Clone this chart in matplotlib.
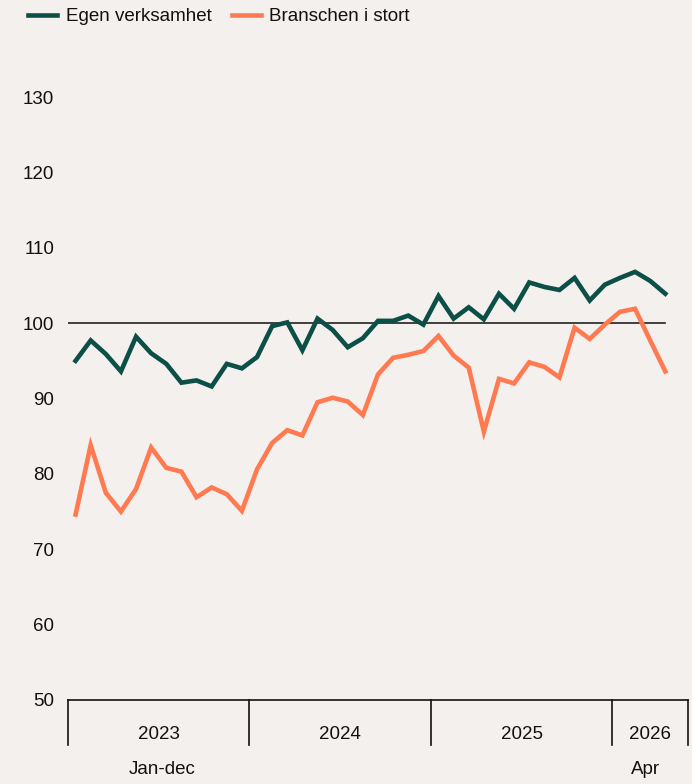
import matplotlib

matplotlib.use("Agg")
import matplotlib.pyplot as plt
import matplotlib.transforms as mtransforms

plt.rcParams["font.family"] = ["Liberation Sans", "DejaVu Sans"]

# monthly index, Jan 2023 - Apr 2026
egen = [
    95.0, 97.7, 95.9, 93.6, 98.2, 96.0, 94.6, 92.1, 92.4, 91.6, 94.6, 94.0,
    95.5, 99.6, 100.1, 96.4, 100.6, 99.1, 96.8, 98.0, 100.3, 100.3, 101.0, 99.8,
    103.6, 100.6, 102.1, 100.5, 103.9, 101.9, 105.4, 104.8, 104.4, 106.0, 103.0, 105.1,
    106.0, 106.8, 105.6, 103.9,
]
branschen = [
    74.6, 83.8, 77.5, 75.0, 78.0, 83.5, 80.8, 80.3, 76.9, 78.2, 77.3, 75.1,
    80.6, 84.1, 85.8, 85.1, 89.5, 90.1, 89.6, 87.8, 93.2, 95.4, 95.8, 96.3,
    98.3, 95.7, 94.1, 85.6, 92.6, 92.0, 94.8, 94.2, 92.8, 99.4, 97.9, 99.8,
    101.5, 101.9, 97.7, 93.6,
]
years = ["2023", "2024", "2025", "2026"]
months_per_year = [12, 12, 12, 4]
yticks = [50, 60, 70, 80, 90, 100, 110, 120, 130]

bg = "#F4F0ED"
green = "#0B4F47"
orange = "#FF7A50"

fig = plt.figure(figsize=(6.92, 7.84), dpi=100, facecolor=bg)
ax = fig.add_axes([68 / 692, 1 - 700 / 784, 620 / 692, 603 / 784], facecolor=bg)

x = list(range(len(egen)))
ax.plot(x, egen, color=green, lw=3.3, solid_joinstyle="miter", label="Egen verksamhet")
ax.plot(x, branschen, color=orange, lw=3.3, solid_joinstyle="miter", label="Branschen i stort")
ax.plot([-0.5, len(egen) - 1], [100, 100], color="#222222", lw=1.2, zorder=1)

ax.set_xlim(-0.5, 40.5)
ax.set_ylim(50, 130)
ax.set_yticks(yticks)
ax.set_yticklabels([str(v) for v in yticks], fontsize=13.5, color="#111111")
ax.tick_params(axis="y", length=0, pad=10)
ax.set_xticks([])
for side in ["top", "right", "left"]:
    ax.spines[side].set_visible(False)
ax.spines["bottom"].set_color("#111111")
ax.spines["bottom"].set_linewidth(1.2)

# year groups under the axis
trans = mtransforms.blended_transform_factory(ax.transData, ax.transAxes)
edges = [-0.5]
for n in months_per_year:
    edges.append(edges[-1] + n)
edges[-1] += 1
for e in edges:
    ax.plot([e, e], [0, -0.075], color="#111111", lw=1.2, transform=trans, clip_on=False)
for i, yr in enumerate(years):
    ax.text((edges[i] + edges[i + 1]) / 2, -0.058, yr, transform=trans, ha="center", va="center",
            fontsize=13.5, color="#111111")
ax.text((edges[0] + edges[1]) / 2 + 0.2, -0.116, "Jan-dec", transform=trans, ha="center", va="center",
        fontsize=13.5, color="#111111")
ax.text((edges[3] + edges[4]) / 2 - 0.3, -0.116, "Apr", transform=trans, ha="center", va="center",
        fontsize=13.5, color="#111111")

fig.legend(loc="upper left", bbox_to_anchor=(28 / 692, 1 - 8 / 784), ncol=2, frameon=False,
           borderpad=0, borderaxespad=0, fontsize=13.5, handlelength=1.55, handletextpad=0.45,
           columnspacing=1.1, labelcolor="#111111")

fig.savefig("out.png", dpi=100, facecolor=bg)
